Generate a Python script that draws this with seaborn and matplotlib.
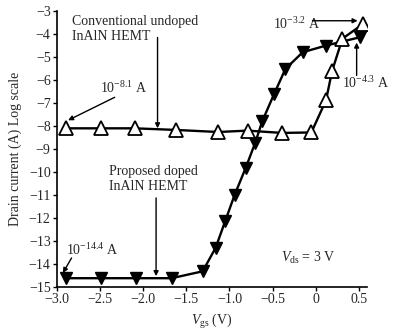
import matplotlib
matplotlib.use("Agg")
import matplotlib.pyplot as plt
import seaborn as sns
import pandas as pd

# Data (log10 of drain current, A) vs gate voltage (V)
vgs_undoped = [-2.89, -2.49, -2.10, -1.62, -1.13, -0.79, -0.39, -0.05, 0.12, 0.19, 0.31, 0.55]
id_undoped = [-8.10, -8.10, -8.10, -8.17, -8.26, -8.20, -8.30, -8.28, -6.88, -5.61, -4.20, -3.56]

vgs_doped = [-2.89, -2.49, -2.08, -1.67, -1.31, -1.16, -1.05, -0.94, -0.81, -0.70, -0.62,
             -0.48, -0.35, -0.15, 0.12, 0.51]
id_doped = [-14.62, -14.62, -14.62, -14.62, -14.32, -13.30, -12.15, -11.00, -9.81, -8.72,
            -7.80, -6.59, -5.51, -4.79, -4.50, -4.14]

x_ticks = [-3.0, -2.5, -2.0, -1.5, -1.0, -0.5, 0, 0.5]
x_tick_labels = ["\u22123.0", "\u22122.5", "\u22122.0", "\u22121.5", "\u22121.0", "\u22120.5", "0", "0.5"]
y_ticks = list(range(-15, -2))

sns.set_theme(style="white")
plt.rcParams["font.family"] = ["Liberation Serif", "DejaVu Serif"]
plt.rcParams["mathtext.fontset"] = "custom"
plt.rcParams["mathtext.rm"] = "Liberation Serif"
plt.rcParams["mathtext.it"] = "Liberation Serif:italic"
plt.rcParams["mathtext.bf"] = "Liberation Serif:bold"

fig = plt.figure(figsize=(3.95, 3.36), dpi=100)
ax = fig.add_axes([0.144, 0.146, 0.784, 0.821])

df_u = pd.DataFrame({"vgs": vgs_undoped, "id": id_undoped})
df_d = pd.DataFrame({"vgs": vgs_doped, "id": id_doped})

sns.lineplot(data=df_d, x="vgs", y="id", sort=False, ax=ax, color="black", lw=1.7,
             marker="v", markersize=9, markerfacecolor="black", markeredgecolor="black",
             markeredgewidth=1.0, zorder=3)
sns.lineplot(data=df_u, x="vgs", y="id", sort=False, ax=ax, color="black", lw=1.7,
             marker="^", markersize=10, markerfacecolor="white", markeredgecolor="black",
             markeredgewidth=1.3, zorder=4)

ax.set_xlim(-3.0, 0.59)
ax.set_ylim(-15, -3)
ax.set_xticks(x_ticks)
ax.set_xticklabels(x_tick_labels)
ax.set_yticks(y_ticks)
ax.set_yticklabels([f"\u2212{abs(v)}" for v in y_ticks])
for s in ["top", "right"]:
    ax.spines[s].set_visible(False)
for s in ["left", "bottom"]:
    ax.spines[s].set_color("black")
    ax.spines[s].set_linewidth(1.2)
ax.tick_params(axis="both", direction="out", length=3, width=1.0, color="black",
               labelsize=10, pad=1.5, bottom=True, left=True)
ax.set_xlabel(r"$V_{\rm gs}$ (V)", fontsize=10, labelpad=4)
ax.set_ylabel("Drain current (A) Log scale", fontsize=10, labelpad=5)

fs = 10
ap = dict(arrowstyle="-|>", color="black", lw=1.0, mutation_scale=7, shrinkA=0, shrinkB=0)

ax.text(-2.83, -3.77, "Conventional undoped\nInAlN HEMT", fontsize=fs, ha="left", va="center",
        linespacing=1.2)
ax.annotate("", xy=(-1.833, -8.1), xytext=(-1.833, -4.15), arrowprops=ap)

ax.text(-2.50, -6.36, r"10$^{-8.1}$ A", fontsize=fs, ha="left", va="center")
ax.annotate("", xy=(-2.87, -7.75), xytext=(-2.33, -6.75), arrowprops=ap)

ax.text(-0.50, -3.55, r"10$^{-3.2}$ A", fontsize=fs, ha="left", va="center")
ax.annotate("", xy=(0.486, -3.42), xytext=(-0.037, -3.42), arrowprops=ap)

ax.text(0.30, -6.15, r"10$^{-4.3}$ A", fontsize=fs, ha="left", va="center", clip_on=False)
ax.annotate("", xy=(0.475, -4.37), xytext=(0.475, -5.8), arrowprops=ap)

ax.text(-2.39, -10.32, "Proposed doped\nInAlN HEMT", fontsize=fs, ha="left", va="center",
        linespacing=1.2)
ax.annotate("", xy=(-1.85, -14.53), xytext=(-1.85, -11.13), arrowprops=ap)

ax.text(-2.89, -13.38, r"10$^{-14.4}$ A", fontsize=fs, ha="left", va="center")
ax.annotate("", xy=(-2.93, -14.39), xytext=(-2.83, -13.74), arrowprops=ap)

ax.text(-0.40, -13.72, r"$V_{\rm ds}$ = 3 V", fontsize=fs, ha="left", va="center")

fig.savefig("out.png", dpi=100, facecolor="white")
